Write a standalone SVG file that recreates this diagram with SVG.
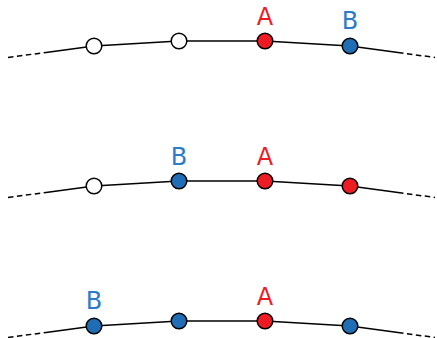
<svg xmlns="http://www.w3.org/2000/svg" width="437" height="338" viewBox="0 0 437 338">
<defs>
<style>
.solid{fill:none;stroke:#000;stroke-width:1.5}
.dash{fill:none;stroke:#000;stroke-width:1.5;stroke-dasharray:5.5 3.5}
.n{stroke:#000;stroke-width:1.5}
.w{fill:#fff}
.r{fill:#ed1c24}
.b{fill:#1f6db5}
.lbl{font-family:"DejaVu Sans",sans-serif;font-size:24px;text-anchor:middle}
.la{fill:#ed1c24}
.lb{fill:#2b7cc9}
</style>
<g id="track">
<path class="dash" d="M8,57.5 L46,52.4"/>
<path class="solid" d="M46,52.4 L94,46 L179,41 L265,41 L350,46 L398,52.5"/>
<path class="dash" d="M398,52.5 L435,57.5"/>
</g>
</defs>
<g id="connectors">
<use href="#track"/>
<use href="#track" y="140"/>
<use href="#track" y="280"/>
</g>
<g id="row1">
<g id="r1n1"><circle class="n w" cx="94" cy="46" r="7.8"/></g>
<g id="r1n2"><circle class="n w" cx="179" cy="41" r="7.8"/></g>
<g id="r1n3"><circle class="n r" cx="265" cy="41" r="7.8"/><text class="lbl la" x="265" y="25">A</text></g>
<g id="r1n4"><circle class="n b" cx="350" cy="46" r="7.8"/><text class="lbl lb" x="350" y="28.5">B</text></g>
</g>
<g id="row2">
<g id="r2n1"><circle class="n w" cx="94" cy="186" r="7.8"/></g>
<g id="r2n2"><circle class="n b" cx="179" cy="181" r="7.8"/><text class="lbl lb" x="179" y="165">B</text></g>
<g id="r2n3"><circle class="n r" cx="265" cy="181" r="7.8"/><text class="lbl la" x="265" y="165">A</text></g>
<g id="r2n4"><circle class="n r" cx="350" cy="186" r="7.8"/></g>
</g>
<g id="row3">
<g id="r3n1"><circle class="n b" cx="94" cy="326" r="7.8"/><text class="lbl lb" x="94" y="308.5">B</text></g>
<g id="r3n2"><circle class="n b" cx="179" cy="321" r="7.8"/></g>
<g id="r3n3"><circle class="n r" cx="265" cy="321" r="7.8"/><text class="lbl la" x="265" y="305">A</text></g>
<g id="r3n4"><circle class="n b" cx="350" cy="326" r="7.8"/></g>
</g>
</svg>
